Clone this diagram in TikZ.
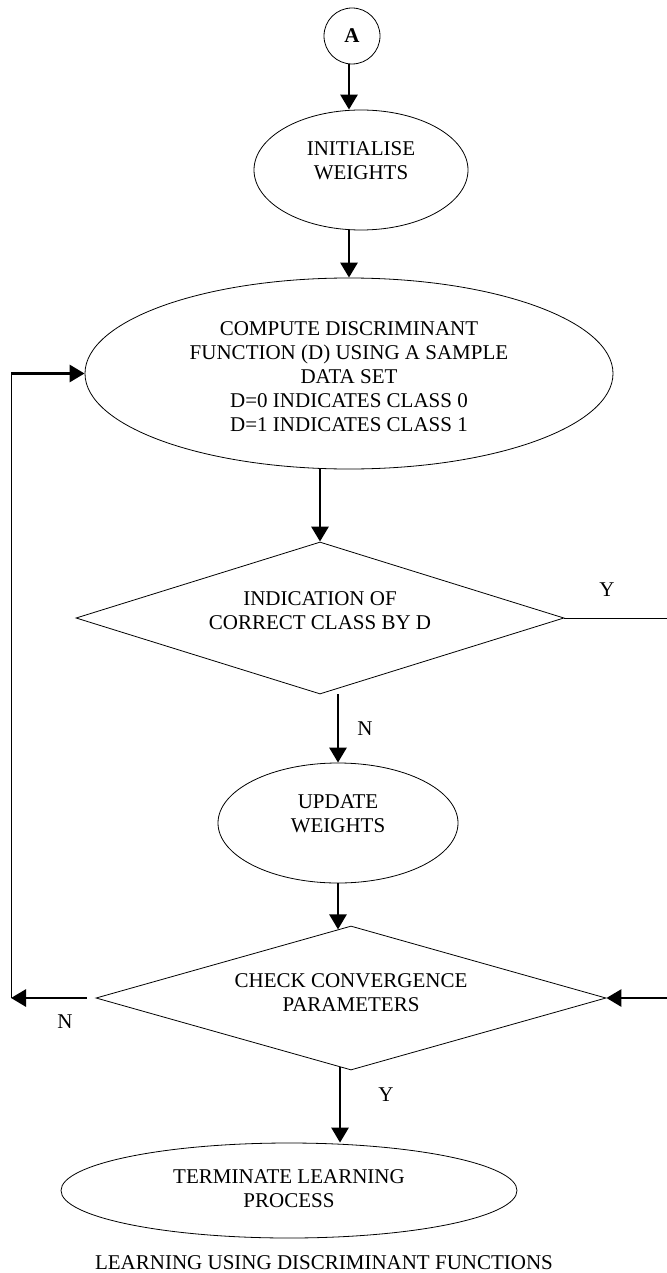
\documentclass[tikz,border=0pt]{standalone}
\usepackage{fontspec}
\setmainfont{Liberation Serif}
\usetikzlibrary{shapes.geometric,arrows.meta}
\newcommand{\lift}[2]{\raisebox{#1}[\height][\depth]{\begin{tabular}{@{}c@{}}#2\end{tabular}}}
\begin{document}
\begin{tikzpicture}[x=1pt,y=-1pt,
  font=\fontsize{21}{24}\selectfont,
  shp/.style={draw, line width=0.8pt, inner sep=0pt},
  oval/.style={shp, ellipse},
  decision/.style={shp, diamond},
  arr/.style={line width=2.8pt, -{Triangle[width=17pt,length=15pt]}},
  wire/.style={line width=0.8pt},
  lbl/.style={inner sep=0pt}]
\useasboundingbox (0,0) rectangle (666,1273);
\node[shp, circle, minimum size=56pt, font=\fontsize{21}{24}\selectfont\bfseries] (A) at (352,36) {A};
\node[oval, minimum width=214pt, minimum height=120pt] (init) at (361,170) {\lift{7.5pt}{INITIALISE\\WEIGHTS}};
\node[oval, minimum width=528pt, minimum height=191pt] (comp) at (349,373.5) {\lift{-4.7pt}{COMPUTE DISCRIMINANT\\FUNCTION (D) USING A SAMPLE\\DATA SET\\D=0 INDICATES CLASS 0\\D=1 INDICATES CLASS 1}};
\node[decision, shape aspect=3.2, minimum width=488pt, minimum height=152pt] (d1) at (320,618) {\lift{5.5pt}{INDICATION OF\\CORRECT CLASS BY D}};
\node[oval, minimum width=240pt, minimum height=120pt] (upd) at (338,823) {\lift{7pt}{UPDATE\\WEIGHTS}};
\node[decision, shape aspect=3.5, minimum width=510pt, minimum height=144pt] (d2) at (351,998) {\lift{3pt}{CHECK CONVERGENCE\\PARAMETERS}};
\node[oval, minimum width=456pt, minimum height=95pt] (term) at (289,1190.5) {\lift{0pt}{TERMINATE LEARNING\\PROCESS}};
\node[lbl, anchor=base] (cap) at (324,1269) {LEARNING USING DISCRIMINANT FUNCTIONS};
\node[lbl] (yd1) at (607,590) {Y};
\node[lbl] (nd1) at (365,729) {N};
\node[lbl] (nd2) at (65,1022) {N};
\node[lbl] (yd2) at (386,1095) {Y};
\coordinate (L1) at (11,998);
\coordinate (L2) at (L1 |- comp.west);
\coordinate (R1) at (668,618);
\coordinate (R2) at (668,998);
\draw[arr] (A.south -| comp.north) -- (init.north -| comp.north);
\draw[arr] (init.south -| comp.north) -- (comp.north);
\draw[arr] (comp.south -| d1.north) -- (d1.north);
\draw[arr] (d1.south -| upd.north) -- (upd.north);
\draw[arr] (upd.south) -- (upd.south |- d2.101);
\draw[arr] (d2.261) -- (d2.261 |- term.north);
\draw[arr] ([xshift=-9pt]d2.west) -- (L1);
\draw[wire] (L1) -- (L2);
\draw[arr] (L2) -- (comp.west);
\draw[wire] (d1.east) -- (R1) -- (R2);
\draw[arr] (R2) -- (d2.east);
\end{tikzpicture}
\end{document}
